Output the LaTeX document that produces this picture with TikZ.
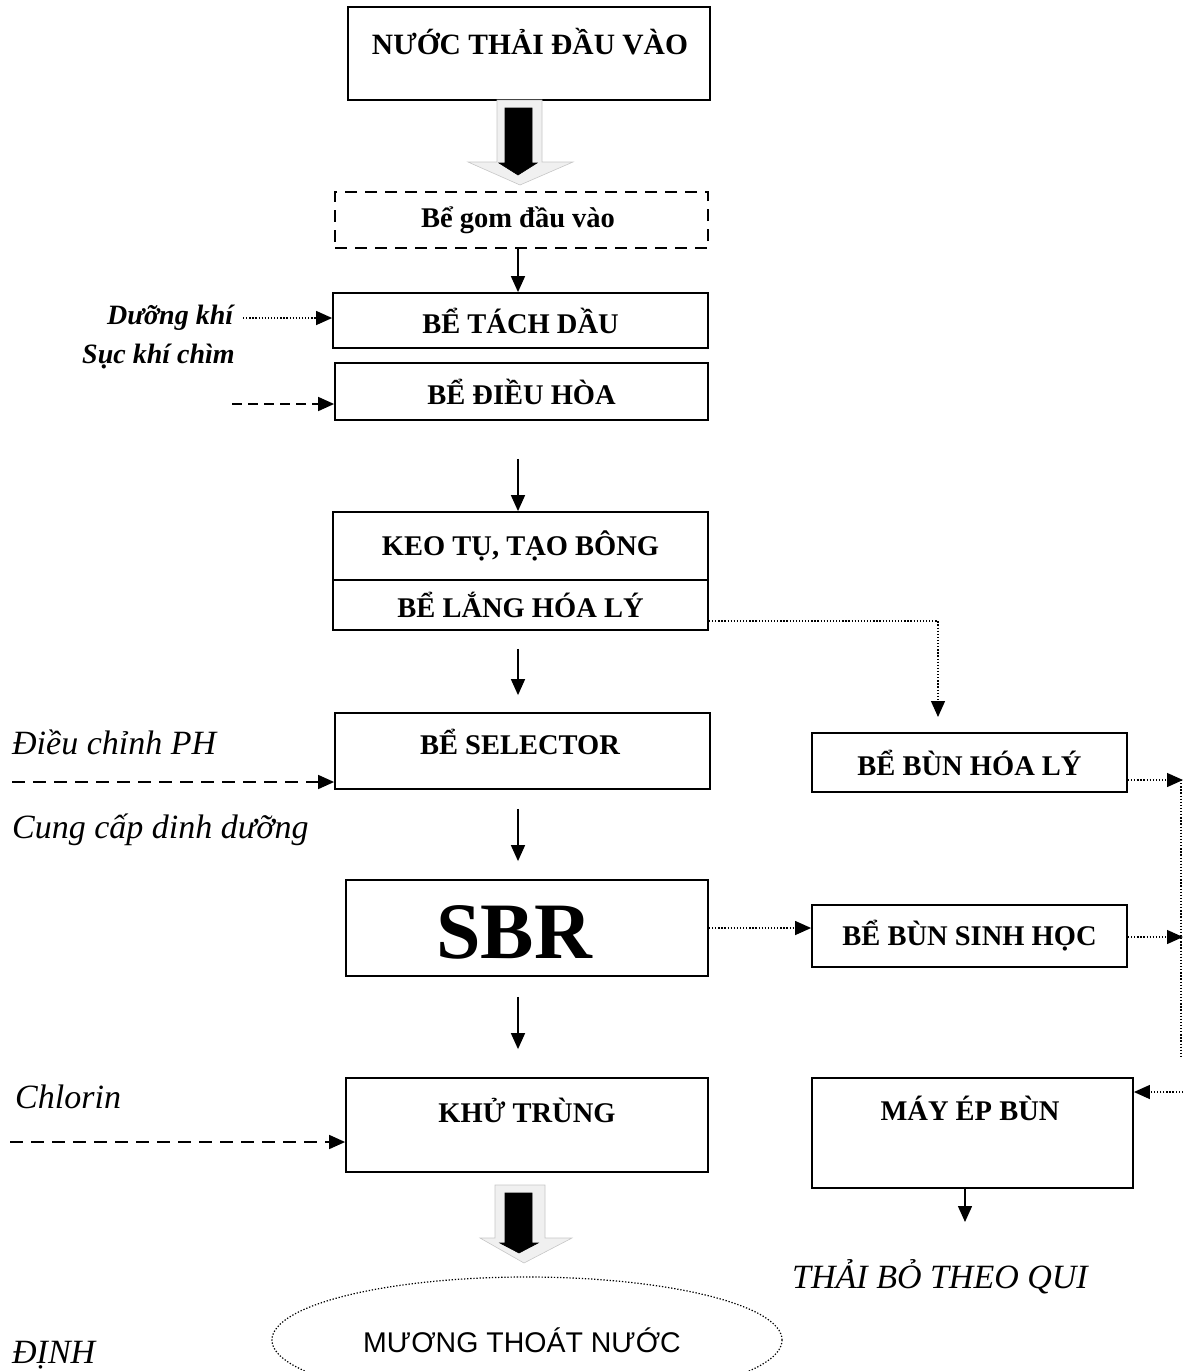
\documentclass[tikz,border=0pt]{standalone}
\usepackage{fontspec}
\setmainfont{Liberation Serif}
\newfontfamily\arialf{Liberation Sans}
\usetikzlibrary{arrows.meta,shapes.geometric,calc}
\begin{document}
\begin{tikzpicture}[x=1pt,y=-1pt,
  box/.style={draw, line width=1.8pt, inner sep=0pt, font=\fontsize{28.5}{30}\selectfont\bfseries},
  boxlbl/.style={inner sep=0pt, font=\fontsize{28.5}{30}\selectfont\bfseries},
  tip/.style={-{Triangle[length=16pt,width=14pt]}},
  arr/.style={line width=1.5pt, tip},
  dotline/.style={line width=1.3pt, dash pattern=on 1.3pt off 1.8pt},
  dashline/.style={line width=1.6pt, dash pattern=on 13pt off 8pt},
  sidelbl/.style={inner sep=0pt, anchor=west, font=\fontsize{34}{38}\selectfont\itshape},
  smalllbl/.style={inner sep=0pt, anchor=west, font=\fontsize{28}{32}\selectfont\bfseries\itshape},
  shadowarrow/.style={fill=gray!12, draw=gray!45, line width=0.6pt},
  blackarrow/.style={fill=black, draw=black, line width=0.6pt},
]
\useasboundingbox (0,0) rectangle (1199,1371);
\clip (0,0) rectangle (1199,1371);

% ---------- main column boxes ----------
\node[box, minimum width=362pt, minimum height=93pt] (in) at (529,53.5) {};
\node[boxlbl, font=\fontsize{29.5}{30}\selectfont\bfseries] (inlbl) at (530,42) {NƯỚC THẢI ĐẦU VÀO};

\node[box, dash pattern=on 12pt off 8pt, line width=1.4pt, minimum width=373pt, minimum height=56pt] (gom) at (521.5,220) {};
\node[boxlbl] (gomlbl) at (518,220) {Bể gom đầu vào};

\node[box, minimum width=375pt, minimum height=55pt] (tach) at (520.5,320.5) {BỂ TÁCH DẦU};
\node[box, minimum width=373pt, minimum height=57pt] (dieuhoa) at (521.5,391.5) {BỂ ĐIỀU HÒA};

\node[box, minimum width=375pt, minimum height=68pt] (keo) at (520.5,546) {KEO TỤ, TẠO BÔNG};
\node[box, minimum width=375pt, minimum height=50pt] (lang) at (520.5,605) {BỂ LẮNG HÓA LÝ};

\node[box, minimum width=375pt, minimum height=76pt] (selector) at (522.5,751) {};
\node[boxlbl] (selectorlbl) at (520,742) {BỂ SELECTOR};

\node[box, minimum width=362pt, minimum height=96pt] (sbr) at (527,928) {};
\node[boxlbl, font=\fontsize{80}{84}\selectfont\bfseries] (sbrlbl) at (514,932) {SBR};

\node[box, minimum width=362pt, minimum height=94pt] (khu) at (527,1125) {};
\node[boxlbl] (khulbl) at (527,1110) {KHỬ TRÙNG};

% ---------- right column boxes ----------
\node[box, minimum width=315pt, minimum height=59pt] (bunhoa) at (969.5,762.5) {BỂ BÙN HÓA LÝ};
\node[box, minimum width=315pt, minimum height=62pt] (bunsinh) at (969.5,936) {BỂ BÙN SINH HỌC};
\node[box, minimum width=321pt, minimum height=110pt] (mayep) at (972.5,1133) {};
\node[boxlbl] (mayeplbl) at (970,1108) {MÁY ÉP BÙN};

% ---------- ellipse ----------
\node[ellipse, draw, dotline, line width=1.2pt, minimum width=510pt, minimum height=126pt, inner sep=0pt,
      font=\arialf\fontsize{28.5}{32}\selectfont] (ditch) at (527,1340) {};
\node[inner sep=0pt, font=\arialf\fontsize{28.5}{32}\selectfont] (ditchlbl) at (522,1340) {MƯƠNG THOÁT NƯỚC};

% ---------- side labels ----------
\node[smalllbl] (duong) at (107,318) {Dưỡng khí};
\node[smalllbl] (suc) at (82,357) {Sục khí chìm};
\node[sidelbl] (ph) at (12,742) {Điều chỉnh PH};
\node[sidelbl] (cung) at (12,830) {Cung cấp dinh dưỡng};
\node[sidelbl] (chlorin) at (15,1097) {Chlorin};
\node[sidelbl] (dinh) at (12,1355) {ĐỊNH};
\node[sidelbl] (thai) at (792,1277) {THẢI BỎ THEO QUI};

% ---------- block arrows ----------
\draw[shadowarrow] (497,100) -- (542,100) -- (542,162) -- (573,162) -- (520,185) -- (468,162) -- (497,162) -- cycle;
\draw[blackarrow] (505,108) -- (532,108) -- (532,163) -- (537,163) -- (518,175) -- (499,163) -- (505,163) -- cycle;

\draw[shadowarrow] (495,1185) -- (545,1185) -- (545,1238) -- (572,1238) -- (524,1263) -- (480,1238) -- (495,1238) -- cycle;
\draw[blackarrow] (505,1193) -- (532,1193) -- (532,1243) -- (538,1243) -- (519,1253) -- (500,1243) -- (505,1243) -- cycle;

% ---------- main vertical arrows ----------
\draw[arr] ([xshift=-3.5pt]gom.south) -- ([xshift=-3.5pt]gom.south |- tach.north);
\draw[arr, shorten <=38pt] ([xshift=-3.5pt]dieuhoa.south) -- ([xshift=-3.5pt]dieuhoa.south |- keo.north);
\draw[arr, shorten <=18pt, shorten >=17pt] ([xshift=-2.5pt]lang.south) -- ([xshift=-2.5pt]lang.south |- selector.north);
\draw[arr, shorten <=19pt, shorten >=18pt] ([xshift=-4.5pt]selector.south) -- ([xshift=-4.5pt]selector.south |- sbr.north);
\draw[arr, shorten <=20pt, shorten >=28pt] ([xshift=-9pt]sbr.south) -- ([xshift=-9pt]sbr.south |- khu.north);

\coordinate (thaiend) at (965,1222);
\draw[arr] (mayep.south -| thaiend) -- (thaiend);

% ---------- side inputs ----------
\coordinate (duongend) at (243,318);
\draw[dotline, tip] (duongend) -- (duongend -| tach.west);

\coordinate (sucstart) at (232,404);
\draw[dashline, dash pattern=on 10pt off 6pt, tip] (sucstart) -- (sucstart -| dieuhoa.west);

\coordinate (phstart) at (12,782);
\draw[dashline, tip] (phstart) -- (phstart -| selector.west);

\coordinate (clstart) at (10,1142);
\draw[dashline, tip] (clstart) -- (clstart -| khu.west);

% ---------- sludge lines ----------
\coordinate (langout) at ($(lang.east)+(0,16)$);
\coordinate (bhin) at (938,717);
\draw[dotline, tip] (langout) -| (bhin);

\coordinate (rA) at (1183,780);
\coordinate (rB) at (1183,937);
\coordinate (rC) at (1181,1058);
\coordinate (rD) at (1183,1092);
\draw[dotline, tip] (rA -| bunhoa.east) -- (rA);
\draw[dotline, tip] (sbr.east) -- (sbr.east -| bunsinh.west);
\draw[dotline, tip] (rB -| bunsinh.east) -- (rB);
\draw[dotline] (1181,780) -- (rC);
\draw[dotline, tip] (rD) -- (rD -| mayep.east);
\end{tikzpicture}
\end{document}
